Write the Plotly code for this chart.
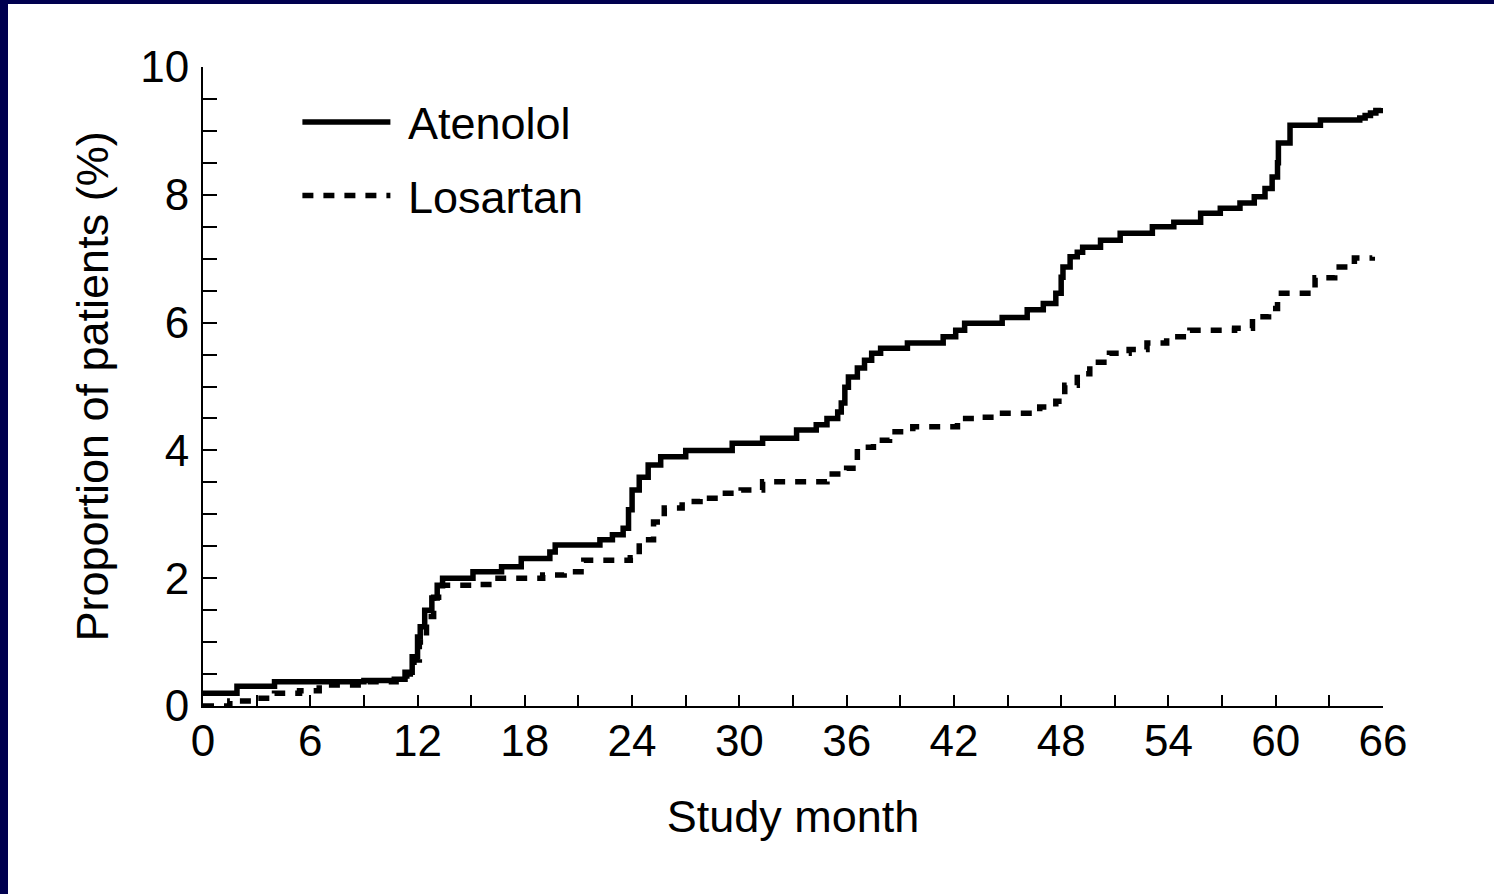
import plotly.graph_objects as go

# Atenolol cumulative proportion (%) by study month
aten_month = [0, 1.9, 4.0, 9.0, 10.7, 11.3, 11.7, 12.0, 12.15, 12.4, 12.8, 13.1, 13.4,
              15.1, 16.7, 17.8, 19.4, 19.7, 22.2, 22.9, 23.5, 23.8, 24.0, 24.4, 24.9, 25.6, 27.0,
              29.6, 31.3, 33.2, 34.3, 34.9, 35.5, 35.7, 35.9, 36.1, 36.6, 37.0, 37.4, 37.9, 39.4, 41.4,
              42.1, 42.6, 44.7, 46.1, 47.0, 47.7, 48.0, 48.1, 48.5, 48.9, 49.2, 50.2, 51.3, 53.1, 54.3,
              55.8, 56.9, 58.0, 58.8, 59.4, 59.8, 60.1, 60.15, 60.8, 62.5, 64.7, 65.0, 65.3, 65.6, 65.9]
aten_value = [0.2, 0.31, 0.38, 0.4, 0.42, 0.53, 0.77, 1.08, 1.24, 1.5, 1.69, 1.89, 2.0,
              2.1, 2.18, 2.31, 2.41, 2.52, 2.6, 2.68, 2.78, 3.07, 3.38, 3.58, 3.77, 3.9, 4.0,
              4.11, 4.19, 4.32, 4.4, 4.5, 4.6, 4.74, 4.99, 5.15, 5.29, 5.41, 5.52, 5.6, 5.68, 5.78,
              5.88, 5.99, 6.08, 6.2, 6.3, 6.46, 6.71, 6.87, 7.03, 7.1, 7.18, 7.29, 7.4, 7.5, 7.57,
              7.71, 7.79, 7.87, 7.97, 8.1, 8.28, 8.5, 8.81, 9.09, 9.17, 9.2, 9.24, 9.28, 9.32, 9.36]

# Losartan cumulative proportion (%) by study month
losa_month = [0, 1.5, 2.9, 4.0, 5.4, 6.5, 9.1, 10.8, 11.4, 11.8, 12.1, 12.5, 12.9, 13.4,
              15.5, 16.5, 19.0, 20.2, 21.3, 23.9, 24.4, 25.2, 25.8, 26.8, 27.8,
              28.0, 29.0, 30.1, 31.3, 34.9, 36.0, 36.6, 37.5, 38.4, 39.7, 42.2,
              43.3, 44.4, 46.8, 47.7, 48.2, 48.9, 49.6, 50.7, 51.8, 52.8, 53.9, 55.2,
              57.7, 58.7, 59.6, 60.1, 62.2, 63.3, 64.4, 65.4]
losa_value = [0.0, 0.08, 0.12, 0.2, 0.24, 0.33, 0.38, 0.4, 0.5, 0.72, 1.0, 1.4, 1.7, 1.89,
              1.9, 2.0, 2.05, 2.1, 2.28, 2.32, 2.6, 2.88, 3.1, 3.2, 3.27,
              3.25, 3.33, 3.38, 3.51, 3.63, 3.72, 4.05, 4.16, 4.29, 4.37, 4.5,
              4.52, 4.58, 4.68, 4.77, 5.02, 5.2, 5.38, 5.52, 5.58, 5.68, 5.78, 5.88,
              5.91, 6.09, 6.22, 6.46, 6.7, 6.87, 7.01, 7.03]

x_tickvals = list(range(0, 67, 3))
x_ticktext = [str(v) if v % 6 == 0 else "" for v in x_tickvals]
y_tickvals = [i * 0.5 for i in range(21)]
y_ticktext = [str(int(v)) if v % 2 == 0 else "" for v in y_tickvals]

FONT = "Liberation Sans, Arial, sans-serif"

fig = go.Figure()
fig.add_trace(go.Scatter(x=aten_month, y=aten_value, mode="lines", name="\u00a0Atenolol",
                         legendgroup="a",
                         line=dict(color="black", width=5.5, shape="hv")))
fig.add_trace(go.Scatter(x=losa_month, y=losa_value, mode="lines", name="\u00a0Losartan",
                         legendgroup="b",
                         line=dict(color="black", width=5.5, shape="hv", dash="11px,10px")))

W, H = 1494, 894
L, R, T, B = 203, 111, 67, 188
pw, ph = W - L - R, H - T - B

fig.update_layout(
    width=W, height=H,
    margin=dict(l=L, r=R, t=T, b=B),
    paper_bgcolor="white", plot_bgcolor="white",
    font=dict(family=FONT, color="black", size=45),
    showlegend=True,
    legend=dict(x=0.08, y=0.97, xanchor="left", yanchor="top",
                bgcolor="rgba(0,0,0,0)", font=dict(size=45), itemwidth=88,
                tracegroupgap=12),
    xaxis=dict(range=[0, 66], tickvals=x_tickvals, ticktext=x_ticktext,
               ticks="inside", ticklen=11, tickwidth=2, tickcolor="black",
               showline=True, linecolor="black", linewidth=2, showgrid=False, zeroline=False,
               tickfont=dict(size=44), ticklabelstandoff=-5,
               title=dict(text="Study month", font=dict(size=45), standoff=37)),
    yaxis=dict(range=[0, 10], tickvals=y_tickvals, ticktext=y_ticktext,
               ticks="inside", ticklen=14, tickwidth=2, tickcolor="black",
               showline=True, linecolor="black", linewidth=2, showgrid=False, zeroline=False,
               tickfont=dict(size=44), ticklabelstandoff=3,
               title=dict(text="Proportion of patients (%)", font=dict(size=45), standoff=17)),
    shapes=[
        dict(type="rect", xref="paper", yref="paper", x0=-L / pw, x1=(8 - L) / pw,
             y0=-B / ph, y1=(H - T) / ph + 0.0, fillcolor="#00004f", line=dict(width=0), layer="above"),
        dict(type="rect", xref="paper", yref="paper", x0=-L / pw, x1=(W - L) / pw,
             y0=1 + (T - 4) / ph, y1=1 + T / ph, fillcolor="#00004f", line=dict(width=0), layer="above"),
    ],
)

fig.write_html("out.html")
